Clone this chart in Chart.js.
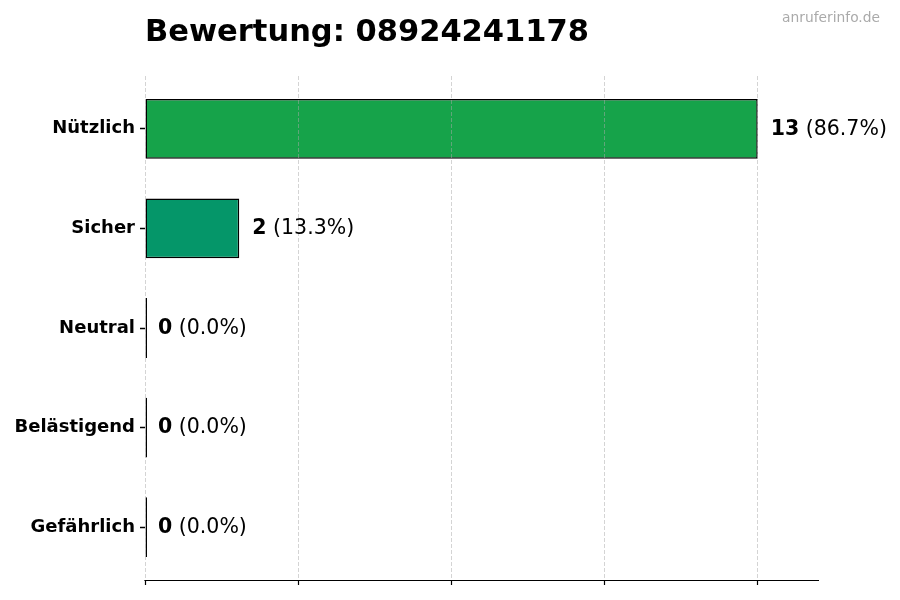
<!DOCTYPE html>
<html>
<head>
<meta charset="utf-8">
<script src="https://cdn.jsdelivr.net/npm/chart.js@4"></script>
<style>
html,body{margin:0;padding:0;background:#fff;}
#wrap{width:900px;height:600px;position:relative;}
</style>
</head>
<body>
<div id="wrap"><canvas id="c" width="900" height="600"></canvas></div>
<script>
const titleText = "Bewertung: 08924241178";
const watermark = "anruferinfo.de";
const categories = ["Nützlich", "Sicher", "Neutral", "Belästigend", "Gefährlich"];
const counts = [13, 2, 0, 0, 0];
const percents = ["86.7%", "13.3%", "0.0%", "0.0%", "0.0%"];
const barColors = ["#16a34a", "#059669", "#6b7280", "#f59e0b", "#dc2626"];
const xTickValues = [0, 3.25, 6.5, 9.75, 13];
const xMax = 14.3;
const yMin = -0.53, yMax = 4.53;

const FONT = "'DejaVu Sans', sans-serif";

const overlay = {
  id: 'overlay',
  afterDraw(chart) {
    const ctx = chart.ctx;
    const xs = chart.scales.x;
    const ca = chart.chartArea;
    const meta = chart.getDatasetMeta(0);
    ctx.save();
    // x axis line
    ctx.strokeStyle = '#000';
    ctx.lineWidth = 1.2;
    ctx.beginPath();
    ctx.moveTo(ca.left - 0.6, ca.bottom + 0.5);
    ctx.lineTo(ca.right, ca.bottom + 0.5);
    ctx.stroke();
    // title
    ctx.fillStyle = '#000';
    ctx.font = "bold 30.5px " + FONT;
    ctx.textBaseline = 'alphabetic';
    ctx.textAlign = 'left';
    ctx.fillText(titleText, ca.left, 41);
    // watermark
    ctx.font = "13.8px " + FONT;
    ctx.fillStyle = '#aaaaaa';
    ctx.textAlign = 'right';
    ctx.fillText(watermark, 880, 22);
    // value labels
    ctx.textAlign = 'left';
    ctx.textBaseline = 'middle';
    meta.data.forEach((bar, i) => {
      const x = xs.getPixelForValue(counts[i]) + 13;
      const y = bar.y + 0.5;
      ctx.font = "bold 20.5px " + FONT;
      ctx.fillStyle = '#000';
      const s1 = String(counts[i]);
      ctx.fillText(s1, x, y);
      const w = ctx.measureText(s1).width;
      ctx.font = "20.5px " + FONT;
      ctx.fillText(" (" + percents[i] + ")", x + w, y);
    });
    ctx.restore();
  }
};

new Chart(document.getElementById('c'), {
  type: 'bar',
  data: {
    datasets: [{
      data: counts.map((v, i) => ({ x: v, y: i })),
      backgroundColor: barColors,
      borderColor: '#000',
      borderWidth: 1.5,
      borderSkipped: false,
      barPercentage: 0.6,
      categoryPercentage: 1.0,
      minBarLength: 2
    }]
  },
  options: {
    indexAxis: 'y',
    responsive: false,
    animation: false,
    devicePixelRatio: 1,
    layout: { padding: { left: 0, top: 76, right: 81, bottom: 0 } },
    plugins: { legend: { display: false }, tooltip: { enabled: false }, title: { display: false } },
    scales: {
      x: {
        type: 'linear',
        position: 'bottom',
        min: 0,
        max: xMax,
        afterBuildTicks(scale) { scale.ticks = xTickValues.map(v => ({ value: v })); },
        afterFit(scale) { scale.height = 20; },
        ticks: { display: false },
        grid: {
          display: true,
          color: 'rgba(170,170,170,0.5)',
          lineWidth: 1,
          drawTicks: true,
          tickLength: 5,
          tickColor: '#000',
          tickWidth: 1.2,
          tickBorderDash: [],
          z: 1
        },
        border: { display: false, dash: [4, 2] }
      },
      y: {
        type: 'linear',
        reverse: true,
        offset: false,
        min: yMin,
        max: yMax,
        afterBuildTicks(scale) { scale.ticks = categories.map((c, i) => ({ value: i })); },
        afterFit(scale) { scale.width = 145; },
        ticks: {
          color: '#000',
          font: { family: FONT, weight: 'bold', size: 18 },
          padding: 5,
          callback: (v) => categories[v]
        },
        grid: {
          display: true,
          offset: false,
          drawOnChartArea: false,
          drawTicks: true,
          tickLength: 5,
          tickColor: '#000',
          tickWidth: 1.5
        },
        border: { display: false }
      }
    }
  },
  plugins: [overlay]
});
</script>
</body>
</html>
